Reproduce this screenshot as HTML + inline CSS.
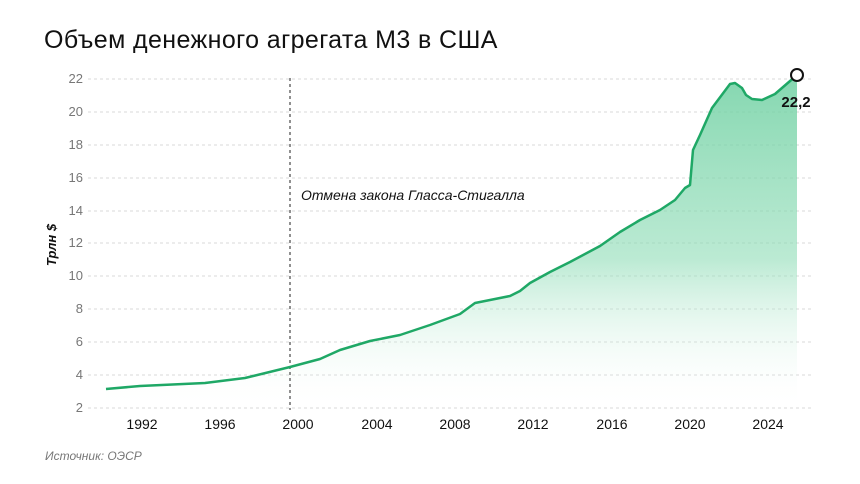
<!DOCTYPE html>
<html><head><meta charset="utf-8"><style>
body{margin:0;background:#fff;}
svg{display:block;font-family:"Liberation Sans","DejaVu Sans",sans-serif;}
</style></head><body>
<svg width="860" height="484" viewBox="0 0 860 484">
<defs>
<linearGradient id="g" x1="0" y1="0" x2="0" y2="1">
<stop offset="0" stop-color="#6fd0a2" stop-opacity="0.85"/>
<stop offset="0.55" stop-color="#8edcb6" stop-opacity="0.6"/>
<stop offset="1" stop-color="#ffffff" stop-opacity="0"/>
</linearGradient>
</defs>
<text x="44" y="48" font-size="25" fill="#111" letter-spacing="0.4">Объем денежного агрегата М3 в США</text>
<g stroke="#d8d8d8" stroke-width="1" stroke-dasharray="3,3">
<line x1="88" x2="812" y1="79" y2="79"/><line x1="88" x2="812" y1="112" y2="112"/>
<line x1="88" x2="812" y1="145" y2="145"/><line x1="88" x2="812" y1="178" y2="178"/>
<line x1="88" x2="812" y1="211" y2="211"/><line x1="88" x2="812" y1="243" y2="243"/>
<line x1="88" x2="812" y1="276" y2="276"/><line x1="88" x2="812" y1="309" y2="309"/>
<line x1="88" x2="812" y1="342" y2="342"/><line x1="88" x2="812" y1="375" y2="375"/>
<line x1="88" x2="812" y1="408" y2="408"/>
</g>
<g font-size="13" fill="#777" text-anchor="end">
<text x="83" y="83">22</text><text x="83" y="116">20</text><text x="83" y="149">18</text>
<text x="83" y="182">16</text><text x="83" y="215">14</text><text x="83" y="247">12</text>
<text x="83" y="280">10</text><text x="83" y="313">8</text><text x="83" y="346">6</text>
<text x="83" y="379">4</text><text x="83" y="412">2</text>
</g>
<text transform="translate(56,245) rotate(-90)" font-size="13" font-style="italic" font-weight="bold" fill="#111" text-anchor="middle">Трлн $</text>
<g font-size="14" fill="#111" text-anchor="middle">
<text x="142" y="429">1992</text><text x="220" y="429">1996</text><text x="298" y="429">2000</text>
<text x="377" y="429">2004</text><text x="455" y="429">2008</text><text x="533" y="429">2012</text>
<text x="612" y="429">2016</text><text x="690" y="429">2020</text><text x="768" y="429">2024</text>
</g>
<path d="M106,389 L140,386 L205,383 L245,378 L290,367 L320,359 L340,350 L370,341 L400,335 L430,325 L460,314 L475,303 L490,300 L510,296 L520,291 L530,283 L550,272 L570,262 L600,246 L620,232 L640,220 L660,210 L675,200 L685,188 L690,185 L693,150 L700,135 L712,108 L718,100 L730,84 L735,83 L742,88 L746,95 L752,99 L762,100 L775,94 L797,75 L797,410 L106,410 Z" fill="url(#g)"/>
<line x1="290" y1="78" x2="290" y2="410" stroke="#222" stroke-width="1" stroke-dasharray="3,3"/>
<path d="M106,389 L140,386 L205,383 L245,378 L290,367 L320,359 L340,350 L370,341 L400,335 L430,325 L460,314 L475,303 L490,300 L510,296 L520,291 L530,283 L550,272 L570,262 L600,246 L620,232 L640,220 L660,210 L675,200 L685,188 L690,185 L693,150 L700,135 L712,108 L718,100 L730,84 L735,83 L742,88 L746,95 L752,99 L762,100 L775,94 L797,75" fill="none" stroke="#1fa866" stroke-width="2.5" stroke-linejoin="round"/>
<circle cx="797" cy="75" r="6" fill="#fff" stroke="#111" stroke-width="2"/>
<text x="796" y="107" font-size="15" font-weight="bold" fill="#111" text-anchor="middle">22,2</text>
<text x="301" y="200" font-size="14" font-style="italic" fill="#111">Отмена закона Гласса-Стигалла</text>
<text x="45" y="460" font-size="12" font-style="italic" fill="#777">Источник: ОЭСР</text>
</svg>
</body></html>
